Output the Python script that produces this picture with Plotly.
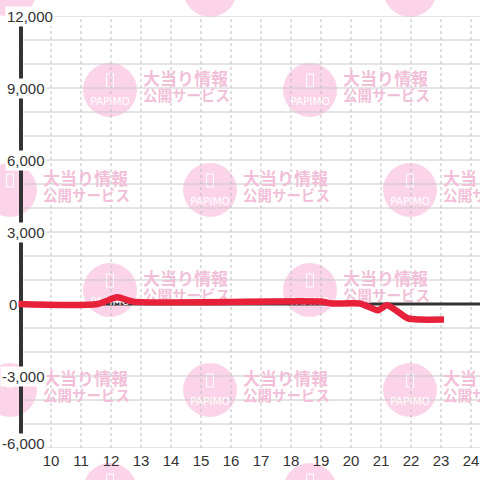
import plotly.graph_objects as go

# ---------------- data ----------------
x_vals = [8.88, 11.55, 12.2, 12.75, 19.0, 19.35, 20.3, 20.9, 21.2, 21.9, 22.3, 23.1]
y_vals = [0, 0, 280, 100, 100, 20, 20, -260, -50, -600, -650, -650]

x_ticks = [10, 11, 12, 13, 14, 15, 16, 17, 18, 19, 20, 21, 22, 23, 24]
y_ticks = [12000, 9000, 6000, 3000, 0, -3000, -6000]
y_tick_labels = ["12,000", "9,000", "6,000", "3,000", "0", "-3,000", "-6,000"]
y_grid = list(range(-6000, 12001, 1000))

wm_line1 = "大当り情報"
wm_line2 = "公開サービス"
wm_logo = "PAPIMO"

# ---------------- layout geometry ----------------
W, H = 480, 480
ML, MR, MT, MB = 15, 0, 16, 32
PW, PH = W - ML - MR, H - MT - MB
XR = [8.8, 24.3]
YR = [-6000, 12000]
AXIS_X = 9


def px_to_xdata(px):
    return XR[0] + (px - ML) / PW * (XR[1] - XR[0])


def py_to_ydata(py):
    return YR[1] - (py - MT) / PH * (YR[1] - YR[0])


def px_to_paper(px):
    return (px - ML) / PW


def py_to_paper(py):
    return (H - MB - py) / PH


shapes = []

# watermark tile centres (pixel pattern, period 200)
centres = []
for row in range(-1, 6):
    cy = 90 + 100 * row
    offset = 110 if row % 2 == 0 else 10
    for col in range(-1, 3):
        cx = offset + 200 * col
        centres.append((cx, cy))

R = 27
for cx, cy in centres:
    shapes.append(dict(type="circle", xref="paper", yref="paper",
                       x0=px_to_paper(cx - R), x1=px_to_paper(cx + R),
                       y0=py_to_paper(cy + R), y1=py_to_paper(cy - R),
                       fillcolor="#fcd4e9", line=dict(width=0), layer="below"))
    shapes.append(dict(type="rect", xref="paper", yref="paper",
                       x0=px_to_paper(cx - 3.5), x1=px_to_paper(cx + 3.5),
                       y0=py_to_paper(cy - 3), y1=py_to_paper(cy - 16),
                       fillcolor="rgba(0,0,0,0)", line=dict(width=1, color="white"),
                       layer="below"))

# horizontal grid
for v in y_grid:
    if v == 0:
        continue
    shapes.append(dict(type="line", xref="x", yref="y", x0=AXIS_X, x1=XR[1], y0=v, y1=v,
                       line=dict(color="#c9c9c9", width=1), layer="below"))
# vertical dashed grid
for v in x_ticks:
    shapes.append(dict(type="line", xref="x", yref="y", x0=v, x1=v, y0=YR[0], y1=YR[1],
                       line=dict(color="#bdbdbd", width=1, dash="3px,3px"), layer="below"))
# zero line and y axis line
shapes.append(dict(type="line", xref="x", yref="y", x0=AXIS_X, x1=XR[1], y0=0, y1=0,
                   line=dict(color="#333333", width=3), layer="below"))
shapes.append(dict(type="line", xref="x", yref="y", x0=AXIS_X, x1=AXIS_X, y0=YR[0], y1=YR[1],
                   line=dict(color="#333333", width=4), layer="below"))

fig = go.Figure()

# watermark text (drawn under the data line)
tx1, ty1, tx2, ty2, lx, ly = [], [], [], [], [], []
for cx, cy in centres:
    tx1.append(px_to_xdata(cx + 33)); ty1.append(py_to_ydata(cy - 9))
    tx2.append(px_to_xdata(cx + 33)); ty2.append(py_to_ydata(cy + 7))
    lx.append(px_to_xdata(cx)); ly.append(py_to_ydata(cy + 12))

fig.add_trace(go.Scatter(x=tx1, y=ty1, mode="text", text=[wm_line1] * len(tx1),
                         textposition="middle right", cliponaxis=False, hoverinfo="skip",
                         textfont=dict(family="Noto Sans CJK JP", size=17, color="#f2bfd9", weight="bold"),
                         showlegend=False))
fig.add_trace(go.Scatter(x=tx2, y=ty2, mode="text", text=[wm_line2] * len(tx2),
                         textposition="middle right", cliponaxis=False, hoverinfo="skip",
                         textfont=dict(family="Noto Sans CJK JP", size=14.5, color="#f2bfd9", weight="bold"),
                         showlegend=False))
fig.add_trace(go.Scatter(x=lx, y=ly, mode="text", text=[wm_logo] * len(lx),
                         textposition="middle center", cliponaxis=False, hoverinfo="skip",
                         textfont=dict(family="DejaVu Sans", size=10.5, color="white"),
                         showlegend=False))

# data line
fig.add_trace(go.Scatter(x=x_vals, y=y_vals, mode="lines",
                         line=dict(color="#e8213b", width=6.5, shape="spline", smoothing=0.7),
                         hoverinfo="skip", showlegend=False))

annotations = []
for v, lab in zip(y_ticks, y_tick_labels):
    left = 7 if v > 0 else (9 if v == 0 else 2)
    annotations.append(dict(xref="paper", yref="y", x=px_to_paper(left - 2), y=v,
                            xanchor="left", yanchor="middle", text=lab, showarrow=False,
                            yshift=5 if v == YR[0] else 0,
                            bgcolor="white", borderpad=1, borderwidth=1, bordercolor="rgba(0,0,0,0)",
                            font=dict(family="Liberation Sans, Arial", size=15, color="#333333")))

fig.update_layout(
    width=W, height=H,
    margin=dict(l=ML, r=MR, t=MT, b=MB, pad=0),
    paper_bgcolor="white", plot_bgcolor="rgba(0,0,0,0)",
    shapes=shapes, annotations=annotations,
    xaxis=dict(range=XR, tickvals=x_ticks, ticktext=[str(v) for v in x_ticks],
               showgrid=False, zeroline=False, showline=False, ticks="",
               ticklabelstandoff=2,
               tickfont=dict(family="Liberation Sans, Arial", size=15, color="#333333"),
               fixedrange=True),
    yaxis=dict(range=YR, showgrid=False, zeroline=False, showline=False,
               showticklabels=False, ticks="", fixedrange=True),
    showlegend=False,
)

fig.write_html("out.html", config={"displayModeBar": False},
               post_script="document.body.style.margin='0';document.body.style.overflow='hidden';")
